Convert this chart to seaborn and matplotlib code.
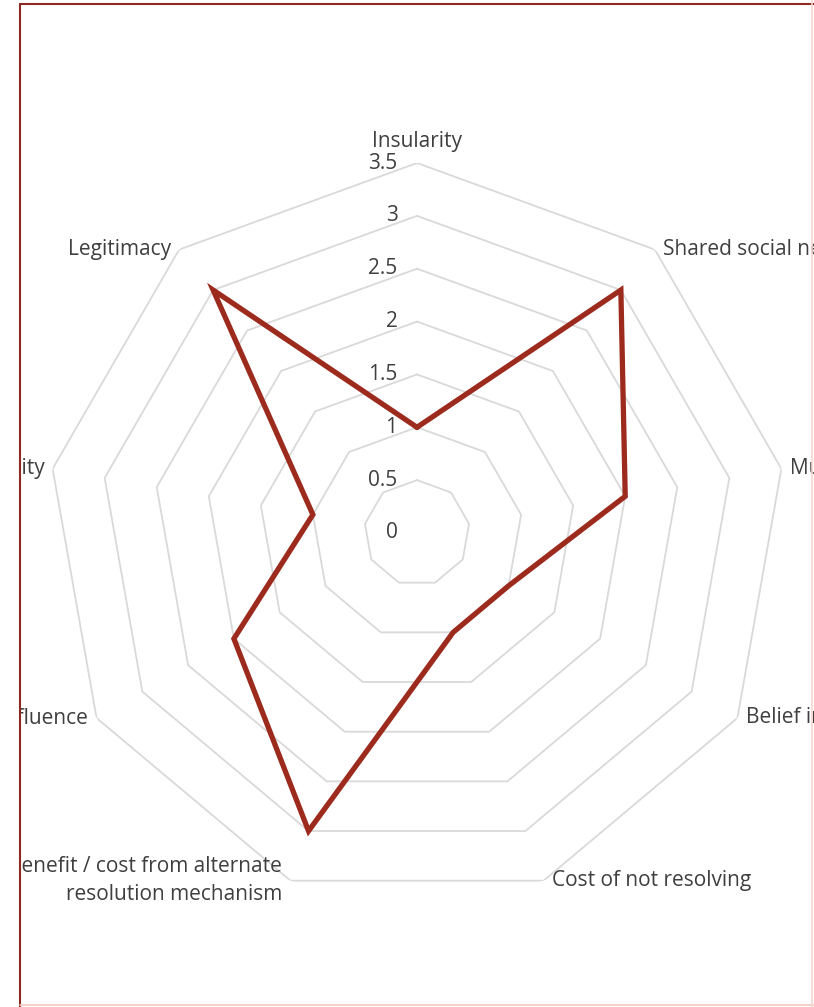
import numpy as np
import pandas as pd
import matplotlib
matplotlib.use("Agg")
import matplotlib.pyplot as plt
import seaborn as sns
from matplotlib.patches import Rectangle
from matplotlib.lines import Line2D

categorias = ["Insularity", "Shared social networks", "Mutual dependence",
              "Belief in fairness", "Cost of not resolving",
              "Benefit / cost from alternate\nresolution mechanism",
              "Influence", "Reciprocity", "Legitimacy"]
valores = [1, 3, 2, 1, 1, 3, 2, 1, 3]
anillos = [0.5, 1, 1.5, 2, 2.5, 3, 3.5]
etiquetas_r = ["0", "0.5", "1", "1.5", "2", "2.5", "3", "3.5"]

sns.set_theme(style="white")
plt.rcParams['font.family'] = ['Open Sans', 'DejaVu Sans']
gris = "#3f3f3f"
fs = 15

W, H = 814, 1007
fig = plt.figure(figsize=(W / 100, H / 100), dpi=100)
cx, cy, R = 417, 533, 370
ax = fig.add_axes([(cx - R) / W, (H - cy - R) / H, 2 * R / W, 2 * R / H], projection="polar")
ax.set_theta_offset(np.pi / 2)
ax.set_theta_direction(-1)
ax.set_ylim(0, 3.5)
ax.grid(False)
ax.spines["polar"].set_visible(False)
ax.set_xticks([])
ax.set_yticks([])
ax.set_facecolor("none")

n = len(categorias)
ang = np.arange(n) * 2 * np.pi / n
ang_c = np.append(ang, ang[0])

# rejilla poligonal
for r in anillos:
    ax.plot(ang_c, [r] * (n + 1), color="#d9d9d9", lw=1.3, zorder=1)

df = pd.DataFrame({"ang": ang_c, "valor": valores + [valores[0]]})
sns.lineplot(data=df, x="ang", y="valor", sort=False, estimator=None, ax=ax,
             color="#9c2a1d", lw=3.8, zorder=3, solid_joinstyle="miter")
ax.set_xlabel("")
ax.set_ylabel("")
ax.set_ylim(0, 3.5)

# etiquetas del eje radial
for i, t in enumerate(etiquetas_r):
    ax.annotate(t, xy=(0, i * 0.5), xytext=(-14, 0), textcoords="offset points",
                ha="right", va="center", fontsize=fs, color=gris)

# etiquetas de categorías
for i, c in enumerate(categorias):
    a = ang[i]
    if i == 0:
        ax.annotate(c, xy=(a, 3.5), xytext=(0, 8), textcoords="offset points",
                    ha="center", va="bottom", fontsize=fs, color=gris)
    else:
        dx = np.sin(a)
        ha = "left" if dx > 0 else "right"
        ax.annotate(c, xy=(a, 3.5), xytext=(6 if dx > 0 else -6, 0),
                    textcoords="offset points", ha=ha, va="center",
                    fontsize=fs, color=gris, linespacing=1.45,
                    multialignment="right" if dx < 0 else "left")

# marco recortado
fig.add_artist(Rectangle((0, 0), 20 / W, 1, transform=fig.transFigure,
                         facecolor="white", edgecolor="none", zorder=10))
fig.add_artist(Line2D([20 / W, 20 / W], [0, 1 - 4 / H], transform=fig.transFigure,
                      color="#8b2a22", lw=1.5, zorder=11))
fig.add_artist(Line2D([20 / W, 1], [1 - 4 / H, 1 - 4 / H], transform=fig.transFigure,
                      color="#8b2a22", lw=1.5, zorder=11))
fig.add_artist(Line2D([20 / W, 1], [2 / H, 2 / H], transform=fig.transFigure,
                      color="#f0c8c0", lw=1.2, zorder=11))
fig.add_artist(Line2D([1 - 2 / W, 1 - 2 / W], [0, 1], transform=fig.transFigure,
                      color="#f5d8d0", lw=1.2, zorder=11))

fig.savefig("out.png", dpi=100)
